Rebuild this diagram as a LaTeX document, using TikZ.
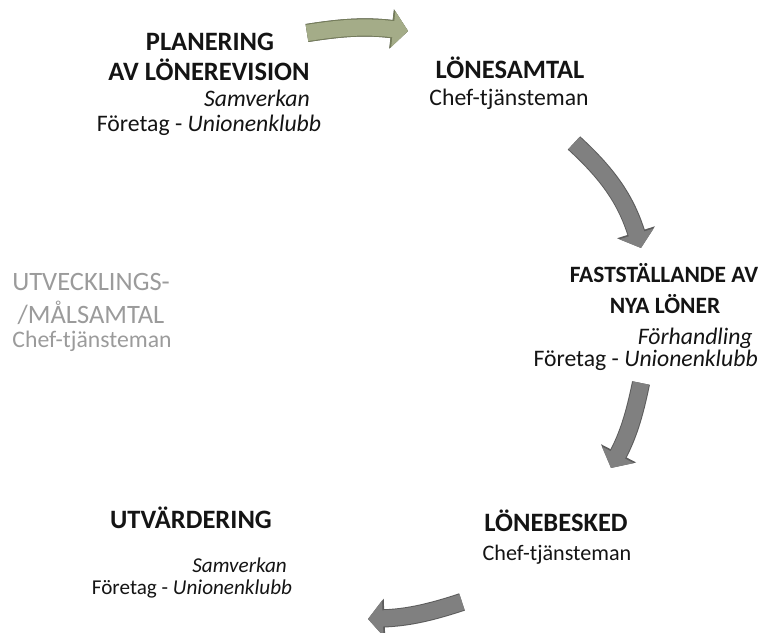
\documentclass[tikz,border=0pt]{standalone}
\usepackage{fontspec}
\setmainfont{Carlito}
\usetikzlibrary{arrows.meta}

\definecolor{arrowgreen}{RGB}{164,172,136}
\definecolor{arrowgreenedge}{RGB}{116,124,90}
\definecolor{arrowgray}{RGB}{128,128,128}
\definecolor{arrowgrayedge}{RGB}{92,92,92}
\definecolor{fadedtext}{RGB}{155,155,155}
\definecolor{inktext}{RGB}{20,20,20}

\begin{document}
\begin{tikzpicture}[x=0.709pt, y=-0.709pt,
  stagehead/.style={font=\fontsize{18.8}{22}\selectfont\bfseries, inner sep=0pt, text=inktext},
  stagerole/.style={font=\fontsize{16.8}{20}\selectfont\itshape, inner sep=0pt, text=inktext},
  stageparts/.style={font=\fontsize{16.8}{20}\selectfont, inner sep=0pt, text=inktext},
  lowrole/.style={stagerole, font=\fontsize{15}{18}\selectfont\itshape},
  lowparts/.style={stageparts, font=\fontsize{15}{18}\selectfont},
  faded/.style={text=fadedtext},
  cyclearrow/.style={line width=11.5pt, draw=arrowgray,
    -{Triangle[length=10.5pt,width=25pt]},
    preaction={draw=arrowgrayedge, line width=12.9pt, -{Triangle[length=11.7pt,width=27.4pt]}}},
  greenarrow/.style={cyclearrow, draw=arrowgreen,
    preaction={draw=arrowgreenedge, line width=12.9pt, -{Triangle[length=11.7pt,width=27.4pt]}}}
]
\useasboundingbox (0,0) rectangle (763,633);

% planering
\node[stagehead, anchor=base] (plan1) at (210,50) {PLANERING};
\node[stagehead, anchor=base] (plan2) at (209,80) {AV LÖNEREVISION};
\node[stagerole, anchor=base east] (planrole) at (310,106) {Samverkan};
\node[stageparts, anchor=base] (planparts) at (209,131) {Företag - \textit{Unionenklubb}};

% lönesamtal
\node[stagehead, anchor=base] (samtal) at (510,79) {LÖNESAMTAL};
\node[stageparts, anchor=base] (samtalparts) at (509,105) {Chef-tjänsteman};

% fastställande
\node[stagehead, font=\fontsize{16.6}{20}\selectfont\bfseries, anchor=base] (fast1) at (664,282) {FASTSTÄLLANDE AV};
\node[stagehead, font=\fontsize{16.6}{20}\selectfont\bfseries, anchor=base] (fast2) at (665,313) {NYA LÖNER};
\node[stagerole, anchor=base east] (fastrole) at (753,344) {Förhandling};
\node[stageparts, anchor=base east] (fastparts) at (758,366) {Företag - \textit{Unionenklubb}};

% lönebesked
\node[stagehead, anchor=base] (besked) at (556,531) {LÖNEBESKED};
\node[lowparts, font=\fontsize{15.7}{18}\selectfont, anchor=base] (beskedparts) at (557,560) {Chef-tjänsteman};

% utvärdering
\node[stagehead, anchor=base] (utv) at (191,528) {UTVÄRDERING};
\node[lowrole, anchor=base east] (utvrole) at (287,572) {Samverkan};
\node[lowparts, anchor=base] (utvparts) at (192,594) {Företag - \textit{Unionenklubb}};

% utvecklingssamtal (faded)
\node[stageparts, faded, font=\fontsize{18.8}{22}\selectfont, anchor=base] (mal1) at (91,290) {UTVECKLINGS-};
\node[stageparts, faded, font=\fontsize{18.8}{22}\selectfont, anchor=base] (mal2) at (91,323) {/MÅLSAMTAL};
\node[stageparts, faded, anchor=base] (malparts) at (92,347) {Chef-tjänsteman};

% arrows between the stages
\coordinate (a1s) at (307,33);
\coordinate (a1e) at (408,31);
\coordinate (a2s) at (574,143);
\coordinate (a2e) at (641,248);
\coordinate (a3s) at (641,383);
\coordinate (a3e) at (611,468);
\coordinate (a4s) at (462,602);
\coordinate (a4e) at (368,619);

\draw[greenarrow] (a1s) to[bend left=8] (a1e);
\draw[cyclearrow] (a2s) to[bend left=15] (a2e);
\draw[cyclearrow] (a3s) to[bend left=8] (a3e);
\draw[cyclearrow] (a4s) to[bend left=8] (a4e);

\end{tikzpicture}
\end{document}
